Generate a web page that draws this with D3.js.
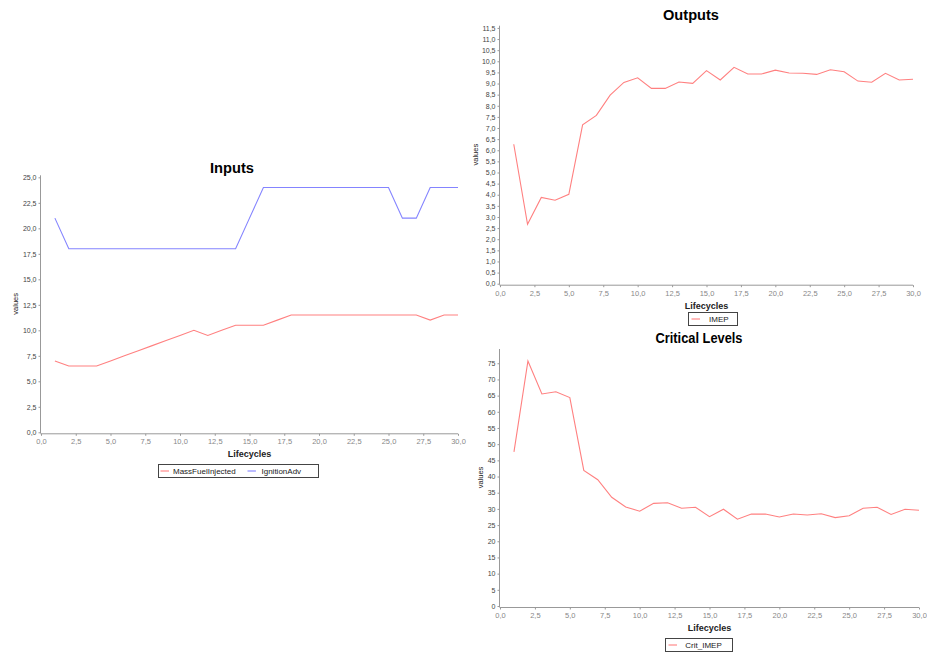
<!DOCTYPE html>
<html>
<head>
<meta charset="utf-8">
<script src="https://cdn.jsdelivr.net/npm/d3@7"></script>
<style>
  html, body { margin: 0; padding: 0; background: #fff; }
  svg { display: block; font-family: "Liberation Sans", Arial, sans-serif; }
</style>
</head>
<body>
<svg id="chart" width="927" height="654"></svg>
<script>
// ---- data ----
const lifecycles = [1, 2, 3, 4, 5, 6, 7, 8, 9, 10, 11, 12, 13, 14, 15,
                    16, 17, 18, 19, 20, 21, 22, 23, 24, 25, 26, 27, 28, 29, 30];

const massFuelInjected = [7.0, 6.5, 6.5, 6.5, 7.0, 7.5, 8.0, 8.5, 9.0, 9.5,
                          10.0, 9.5, 10.0, 10.5, 10.5, 10.5, 11.0, 11.5, 11.5, 11.5,
                          11.5, 11.5, 11.5, 11.5, 11.5, 11.5, 11.5, 11.0, 11.5, 11.5];

const ignitionAdv = [21, 18, 18, 18, 18, 18, 18, 18, 18, 18,
                     18, 18, 18, 18, 21, 24, 24, 24, 24, 24,
                     24, 24, 24, 24, 24, 21, 21, 24, 24, 24];

const imep = [6.27, 2.67, 3.88, 3.75, 4.02, 7.14, 7.57, 8.48, 9.05, 9.26,
              8.78, 8.78, 9.07, 9.01, 9.58, 9.16, 9.73, 9.43, 9.43, 9.60,
              9.47, 9.46, 9.41, 9.62, 9.53, 9.11, 9.06, 9.46, 9.16, 9.19];

const critImep = [47.6, 75.7, 65.5, 66.2, 64.4, 41.9, 39.0, 33.6, 30.6, 29.3,
                  31.7, 31.9, 30.2, 30.5, 27.6, 29.9, 26.8, 28.4, 28.4, 27.5,
                  28.4, 28.1, 28.5, 27.3, 27.9, 30.2, 30.5, 28.3, 29.9, 29.6];

const xTicks = [0, 2.5, 5, 7.5, 10, 12.5, 15, 17.5, 20, 22.5, 25, 27.5, 30];
const inputsYTicks = [0, 2.5, 5, 7.5, 10, 12.5, 15, 17.5, 20, 22.5, 25];
const outputsYTicks = [0, 0.5, 1, 1.5, 2, 2.5, 3, 3.5, 4, 4.5, 5, 5.5, 6, 6.5, 7, 7.5,
                       8, 8.5, 9, 9.5, 10, 10.5, 11, 11.5];
const criticalYTicks = [0, 5, 10, 15, 20, 25, 30, 35, 40, 45, 50, 55, 60, 65, 70, 75];

const RED = "#ff8080";
const BLUE = "#8484ff";

// decimal comma formatting
const fmt1 = d => d3.format(".1f")(d).replace(".", ",");
const fmt0 = d => d3.format("d")(d);

const svg = d3.select("#chart");

function drawChart(cfg) {
  const g = svg.append("g");
  const x = d3.scaleLinear().domain([0, 30]).range([cfg.left, cfg.right]);
  const y = d3.scaleLinear().domain([0, cfg.yMax]).range([cfg.bottom, cfg.top]);

  // title
  g.append("text")
    .attr("x", cfg.titleX).attr("y", cfg.titleY)
    .attr("text-anchor", "middle")
    .attr("font-weight", "bold").attr("font-size", 15)
    .attr("textLength", cfg.titleW).attr("lengthAdjust", "spacingAndGlyphs")
    .attr("fill", "#000")
    .text(cfg.title);

  // y axis
  const yAxis = d3.axisLeft(y).tickValues(cfg.yTicks).tickFormat(cfg.yFmt)
    .tickSize(2).tickPadding(2);
  const ya = g.append("g").attr("transform", `translate(${cfg.left - 0.5},0)`).call(yAxis);
  ya.select(".domain").attr("stroke", "#999").attr("d", `M0,${cfg.bottom + 1}V${cfg.top}`);
  ya.selectAll(".tick line").attr("stroke", "#999");
  ya.selectAll(".tick text").attr("fill", "#444").attr("font-size", 7)
    .attr("font-family", "'Liberation Sans', Arial, sans-serif");

  // x axis
  const xAxis = d3.axisBottom(x).tickValues(xTicks).tickFormat(fmt1)
    .tickSize(2).tickPadding(3);
  const xa = g.append("g").attr("transform", `translate(0,${cfg.bottom + 1.5})`).call(xAxis);
  xa.select(".domain").attr("stroke", "#999").attr("d", `M${cfg.left - 0.5},0H${cfg.right}`);
  xa.selectAll(".tick line").attr("stroke", "#999");
  xa.selectAll(".tick text").attr("fill", "#888").attr("font-size", 7.5)
    .attr("font-family", "'Liberation Sans', Arial, sans-serif");

  // axis titles
  g.append("text")
    .attr("x", (cfg.left + cfg.right) / 2).attr("y", cfg.xLabelY)
    .attr("text-anchor", "middle").attr("font-weight", "bold").attr("font-size", 9)
    .attr("fill", "#222")
    .text("Lifecycles");
  g.append("text")
    .attr("transform", `translate(${cfg.yLabelX},${(cfg.top + cfg.bottom) / 2}) rotate(-90)`)
    .attr("text-anchor", "middle").attr("font-size", 7.5).attr("fill", "#222")
    .text("values");

  // series lines
  const line = d3.line().x((d, i) => x(lifecycles[i])).y(d => y(d));
  cfg.series.forEach(s => {
    g.append("path").datum(s.values)
      .attr("fill", "none").attr("stroke", s.color).attr("stroke-width", 1.1)
      .attr("d", line);
  });

  // legend: box, then one swatch + label per series
  const lg = g.append("g");
  lg.append("rect")
    .attr("x", cfg.legend.x + 0.5).attr("y", cfg.legend.y + 0.5)
    .attr("width", cfg.legend.w).attr("height", cfg.legend.h)
    .attr("fill", "#fff").attr("stroke", "#444");
  const ly = cfg.legend.y + cfg.legend.h / 2 + 0.5;
  cfg.series.forEach((s, i) => {
    const item = cfg.legend.items[i];
    lg.append("line")
      .attr("x1", item.swatch).attr("x2", item.swatch + 8.5).attr("y1", ly).attr("y2", ly)
      .attr("stroke", s.color).attr("stroke-width", 1.1);
    lg.append("text")
      .attr("x", item.text).attr("y", ly + 3)
      .attr("font-size", 8).attr("fill", "#222")
      .text(s.name);
  });
}

drawChart({
  title: "Inputs", titleX: 232, titleY: 173.3, titleW: 44,
  left: 41, right: 458, top: 175.3, bottom: 432.3, yMax: 25.2,
  yTicks: inputsYTicks, yFmt: fmt1,
  xLabelY: 457.3, yLabelX: 17.5,
  series: [
    { name: "MassFuelInjected", values: massFuelInjected, color: RED },
    { name: "IgnitionAdv", values: ignitionAdv, color: BLUE }
  ],
  legend: { x: 158, y: 464, w: 160, h: 13,
            items: [{ swatch: 160.5, text: 173 }, { swatch: 247.5, text: 261.5 }] }
});

drawChart({
  title: "Outputs", titleX: 691, titleY: 20, titleW: 56,
  left: 500, right: 913, top: 25.7, bottom: 283.7, yMax: 11.6,
  yTicks: outputsYTicks, yFmt: fmt1,
  xLabelY: 308.7, yLabelX: 477.5,
  series: [
    { name: "IMEP", values: imep, color: RED }
  ],
  legend: { x: 688, y: 312, w: 49, h: 13,
            items: [{ swatch: 691.5, text: 709 }] }
});

drawChart({
  title: "Critical Levels", titleX: 699, titleY: 343.3, titleW: 87,
  left: 500, right: 919, top: 349, bottom: 606, yMax: 79.4,
  yTicks: criticalYTicks, yFmt: fmt0,
  xLabelY: 630.7, yLabelX: 483,
  series: [
    { name: "Crit_IMEP", values: critImep, color: RED }
  ],
  legend: { x: 665, y: 638, w: 67, h: 13,
            items: [{ swatch: 668.5, text: 685.3 }] }
});
</script>
</body>
</html>
